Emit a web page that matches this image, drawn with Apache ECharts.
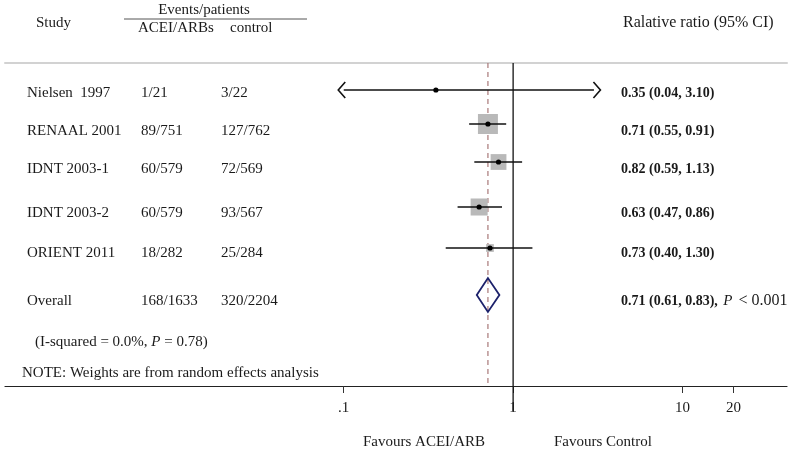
<!DOCTYPE html>
<html>
<head>
<meta charset="utf-8">
<script src="https://cdn.jsdelivr.net/npm/echarts@6/dist/echarts.min.js"></script>
<style>
  html, body { margin: 0; padding: 0; background: #fff; }
  #chart { width: 798px; height: 451px; }
</style>
</head>
<body>
<div id="chart"></div>
<script>
// study rows
const studies = ['Nielsen  1997', 'RENAAL 2001', 'IDNT 2003-1', 'IDNT 2003-2', 'ORIENT 2011'];
const aceiEvents = ['1/21', '89/751', '60/579', '60/579', '18/282'];
const controlEvents = ['3/22', '127/762', '72/569', '93/567', '25/284'];
const ratio = [0.35, 0.71, 0.82, 0.63, 0.73];
const lower = [0.04, 0.55, 0.59, 0.47, 0.40];
const upper = [3.10, 0.91, 1.13, 0.86, 1.30];
const weights = [0.5, 40, 25, 29, 6]; // % weight

// pooled estimate
const overallEvents = ['168/1633', '320/2204'];
const overallRatio = [0.71, 0.61, 0.83]; // est, lower, upper

const tickValues = [0.1, 1, 10, 20];
const tickLabels = ['.1', '1', '10', '20'];

// layout (y axis runs 0..323 from top rule to bottom axis)
const markerRow = [27, 61, 99, 144, 185, 232];
const textRow = [30, 68, 106, 150, 190, 238];
const clipRange = [0.1, 3];
const colX = { study: 27, acei: 141, control: 221, ratio: 621 };
const FONT = '"Liberation Serif"';
const INK = '#1a1a1a';

const chart = echarts.init(document.getElementById('chart'));

const fmt = v => v.toFixed(2);

const studyData = ratio.map((r, i) => [r, lower[i], upper[i], markerRow[i], weights[i]]);

const textData = studies.map((s, i) => [i, textRow[i]]);
textData.push([5, textRow[5]]);

const option = {
  animation: false,
  grid: { left: 5, right: 11, top: 63, bottom: 65 },
  xAxis: [
    {
      type: 'log', logBase: 10, min: 0.001, max: 41.4,
      position: 'bottom',
      axisLine: { onZero: false, lineStyle: { color: '#222', width: 1.2 } },
      axisTick: { customValues: tickValues, length: 7, lineStyle: { color: '#333', width: 1 } },
      axisLabel: {
        customValues: tickValues,
        margin: 15,
        fontFamily: 'Liberation Serif', fontSize: 15, color: INK,
        formatter: v => {
          let best = 0;
          tickValues.forEach((t, i) => {
            if (Math.abs(Math.log10(t) - Math.log10(v)) < Math.abs(Math.log10(tickValues[best]) - Math.log10(v))) best = i;
          });
          return tickLabels[best];
        }
      },
      splitLine: { show: false },
      minorTick: { show: false }
    },
    {
      type: 'log', logBase: 10, min: 0.001, max: 41.4,
      position: 'top',
      axisLine: { onZero: false, lineStyle: { color: '#d2d2d2', width: 2 } },
      axisTick: { show: false },
      axisLabel: { show: false },
      splitLine: { show: false }
    }
  ],
  yAxis: { type: 'value', inverse: true, min: 0, max: 323, show: false },
  graphic: [
    { type: 'text', x: 36, y: 23, style: { text: 'Study', font: '15px ' + FONT, fill: INK, verticalAlign: 'middle' } },
    { type: 'text', x: 204, y: 10, style: { text: 'Events/patients', font: '15px ' + FONT, fill: INK, align: 'center', verticalAlign: 'middle' } },
    { type: 'line', shape: { x1: 124, y1: 19, x2: 307, y2: 19 }, style: { stroke: '#555', lineWidth: 1 } },
    { type: 'text', x: 138, y: 28, style: { text: 'ACEI/ARBs', font: '15px ' + FONT, fill: INK, verticalAlign: 'middle' } },
    { type: 'text', x: 230, y: 28, style: { text: 'control', font: '15px ' + FONT, fill: INK, verticalAlign: 'middle' } },
    { type: 'text', x: 623, y: 23, style: { text: 'Ralative ratio (95% CI)', font: '16px ' + FONT, fill: INK, verticalAlign: 'middle' } },
    {
      type: 'text', x: 35, y: 342,
      style: {
        text: '(I-squared = 0.0%, {i|P} = 0.78)',
        font: '15px ' + FONT, fill: INK, verticalAlign: 'middle',
        rich: { i: { fontStyle: 'italic', fontFamily: 'Liberation Serif', fontSize: 15 } }
      }
    },
    { type: 'text', x: 22, y: 373, style: { text: 'NOTE: Weights are from random effects analysis', font: '15px ' + FONT, fill: INK, verticalAlign: 'middle' } },
    { type: 'text', x: 363, y: 442, style: { text: 'Favours ACEI/ARB', font: '15px ' + FONT, fill: INK, verticalAlign: 'middle' } },
    { type: 'text', x: 554, y: 442, style: { text: 'Favours Control', font: '15px ' + FONT, fill: INK, verticalAlign: 'middle' } }
  ],
  series: [
    {
      // null line at 1 and dashed line at the pooled estimate
      type: 'custom',
      clip: false,
      silent: true,
      data: [[1, overallRatio[0]]],
      renderItem: (params, api) => {
        const top = api.coord([1, 0]);
        const bot = api.coord([1, 323]);
        const xd = api.coord([api.value(1), 0])[0];
        return {
          type: 'group',
          children: [
            { type: 'line', shape: { x1: xd, y1: top[1], x2: xd, y2: bot[1] },
              style: { stroke: '#a87878', lineWidth: 1.2, lineDash: [5, 4] } },
            { type: 'line', shape: { x1: top[0], y1: top[1], x2: top[0], y2: bot[1] + 25 },
              style: { stroke: '#111', lineWidth: 1.3 } }
          ]
        };
      }
    },
    {
      type: 'custom',
      clip: false,
      silent: true,
      data: studyData,
      renderItem: (params, api) => {
        const est = api.value(0), lo = api.value(1), hi = api.value(2), row = api.value(3), w = api.value(4);
        const y = api.coord([1, row])[1];
        const loC = Math.max(lo, clipRange[0]);
        const hiC = Math.min(hi, clipRange[1]);
        const xl = api.coord([loC, row])[0];
        const xh = api.coord([hiC, row])[0];
        const xe = api.coord([est, row])[0];
        const s = 3.16 * Math.sqrt(w);
        const children = [
          { type: 'rect', shape: { x: xe - s / 2, y: y - s / 2, width: s, height: s }, style: { fill: '#b9b9b9' } },
          { type: 'line', shape: { x1: xl, y1: y, x2: xh, y2: y }, style: { stroke: '#111', lineWidth: 1.6 } },
          { type: 'circle', shape: { cx: xe, cy: y, r: 2.6 }, style: { fill: '#000' } }
        ];
        if (lo < clipRange[0] || hi > clipRange[1]) {
          children.push({ type: 'polyline', shape: { points: [[xl + 1.5, y - 8], [xl - 5.5, y], [xl + 1.5, y + 8]] },
            style: { stroke: '#111', lineWidth: 1.6, fill: null } });
          children.push({ type: 'polyline', shape: { points: [[xh - 0.5, y - 8], [xh + 6.5, y], [xh - 0.5, y + 8]] },
            style: { stroke: '#111', lineWidth: 1.6, fill: null } });
        }
        return { type: 'group', children };
      }
    },
    {
      // pooled diamond
      type: 'custom',
      clip: false,
      silent: true,
      data: [[overallRatio[0], overallRatio[1], overallRatio[2], markerRow[5]]],
      renderItem: (params, api) => {
        const row = api.value(3);
        const c = api.coord([api.value(0), row]);
        const l = api.coord([api.value(1), row]);
        const r = api.coord([api.value(2), row]);
        return {
          type: 'polygon',
          shape: { points: [[l[0], c[1]], [c[0], c[1] - 17], [r[0], c[1]], [c[0], c[1] + 17]] },
          style: { stroke: '#1c216b', lineWidth: 1.8, fill: null }
        };
      }
    },
    {
      // table text
      type: 'custom',
      clip: false,
      silent: true,
      data: textData,
      renderItem: (params, api) => {
        const i = api.value(0);
        const y = api.coord([1, api.value(1)])[1];
        const isOverall = i === 5;
        const base = { font: '15px ' + FONT, fill: INK, verticalAlign: 'middle' };
        const ratioText = isOverall
          ? `${fmt(overallRatio[0])} (${fmt(overallRatio[1])}, ${fmt(overallRatio[2])}), {i|P}{n|< 0.001}`
          : `${fmt(ratio[i])} (${fmt(lower[i])}, ${fmt(upper[i])})`;
        return {
          type: 'group',
          children: [
            { type: 'text', x: colX.study, y, style: Object.assign({ text: isOverall ? 'Overall' : studies[i] }, base) },
            { type: 'text', x: colX.acei, y, style: Object.assign({ text: isOverall ? overallEvents[0] : aceiEvents[i] }, base) },
            { type: 'text', x: colX.control, y, style: Object.assign({ text: isOverall ? overallEvents[1] : controlEvents[i] }, base) },
            {
              type: 'text', x: colX.ratio, y,
              style: {
                text: ratioText,
                font: 'bold 14px ' + FONT, fill: INK, verticalAlign: 'middle',
                rich: {
                  i: { fontStyle: 'italic', fontWeight: 'normal', fontFamily: 'Liberation Serif', fontSize: 15, padding: [0, 0, 0, 2] },
                  n: { fontWeight: 'normal', fontFamily: 'Liberation Serif', fontSize: 16, padding: [0, 0, 0, 6] }
                }
              }
            }
          ]
        };
      }
    }
  ]
};

chart.setOption(option);
</script>
</body>
</html>
